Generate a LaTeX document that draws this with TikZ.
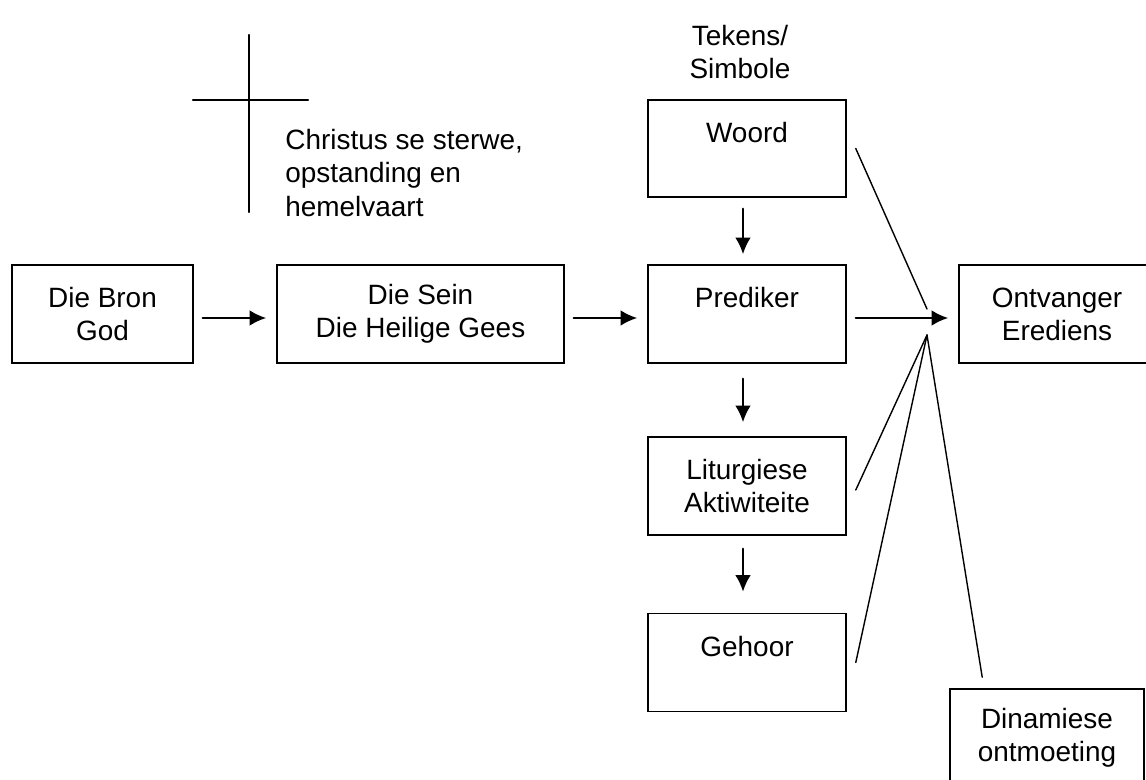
\documentclass[tikz,border=0pt]{standalone}
\usepackage{fontspec}
\setmainfont{Liberation Sans}
\usetikzlibrary{arrows.meta}

\begin{document}
\begin{tikzpicture}[x=.02cm,y=-.02cm,line cap=round,
    tekst/.style={font=\fontsize{15.9}{18.8}\selectfont,inner sep=0pt},
    blok/.style={tekst,draw,line width=.9pt,minimum height=1.96cm,align=center},
    flow/.style={line width=1.3pt,-{Latex[length=9.5pt,width=9pt]},
      shorten <=.18cm,shorten >=.2cm},
    ray/.style={line width=.8pt}]
  \useasboundingbox (0,0) rectangle (1146,780);
  \clip (0,0) rectangle (1146,780);

  % the cross
  \draw[line width=1.2pt] (249,35) -- (249,212);
  \draw[line width=1.2pt] (193,100) -- (308,100);
  \node[tekst,align=left,anchor=west] (christus) at (285,173)
    {Christus se sterwe,\\opstanding en\\hemelvaart};
  \node[tekst,align=center] (tekens) at (740,52) {Tekens/\\Simbole};

  \node[blok,minimum width=3.62cm] (bron) at (102.5,314) {Die Bron\\God};
  \node[blok,minimum width=5.74cm] (sein) at (420.5,314) {Die Sein\\Die Heilige Gees};
  \node[blok,minimum width=3.96cm,minimum height=1.94cm] (woord) at (747,148.5) {Woord\\~};
  \node[blok,minimum width=3.96cm] (prediker) at (747,314) {Prediker\\~};
  \node[blok,minimum width=3.96cm] (liturgie) at (747,486) {Liturgiese\\Aktiwiteite};
  \node[blok,minimum width=3.96cm] (gehoor) at (747,662.5) {Gehoor\\~};
  \node[blok,minimum width=3.92cm] (ontvanger) at (1057,314) {Ontvanger\\Erediens};
  \node[blok,minimum width=3.88cm] (dinamies) at (1047,738) {Dinamiese\\ontmoeting};

  \draw[flow] ([yshift=-.08cm]bron.east) -- ([yshift=-.08cm]sein.west);
  \draw[flow] ([yshift=-.08cm]sein.east) -- ([yshift=-.08cm]prediker.west);
  \draw[flow] ([yshift=-.08cm]prediker.east) -- ([yshift=-.08cm]ontvanger.west);
  \draw[flow,shorten <=.22cm,shorten >=.2cm]
    ([xshift=-.08cm]woord.south) -- ([xshift=-.08cm]prediker.north);
  \draw[flow,shorten <=.3cm,shorten >=.28cm]
    ([xshift=-.08cm]prediker.south) -- ([xshift=-.08cm]liturgie.north);
  \draw[flow,shorten <=.26cm,shorten >=.42cm]
    ([xshift=-.08cm]liturgie.south) -- ([xshift=-.08cm]gehoor.north);

  % lines to the meeting
  \coordinate (meet) at (927,309);
  \coordinate (fan) at (927,335);
  \draw[ray] ([xshift=.18cm]woord.east) -- (meet);
  \draw[ray] (fan) -- ([xshift=.18cm,yshift=-.08cm]liturgie.east);
  \draw[ray] (fan) -- ([xshift=.18cm]gehoor.east);
  \draw[ray] (fan) -- ([shift={(.66cm,.22cm)}]dinamies.north west);
\end{tikzpicture}
\end{document}
